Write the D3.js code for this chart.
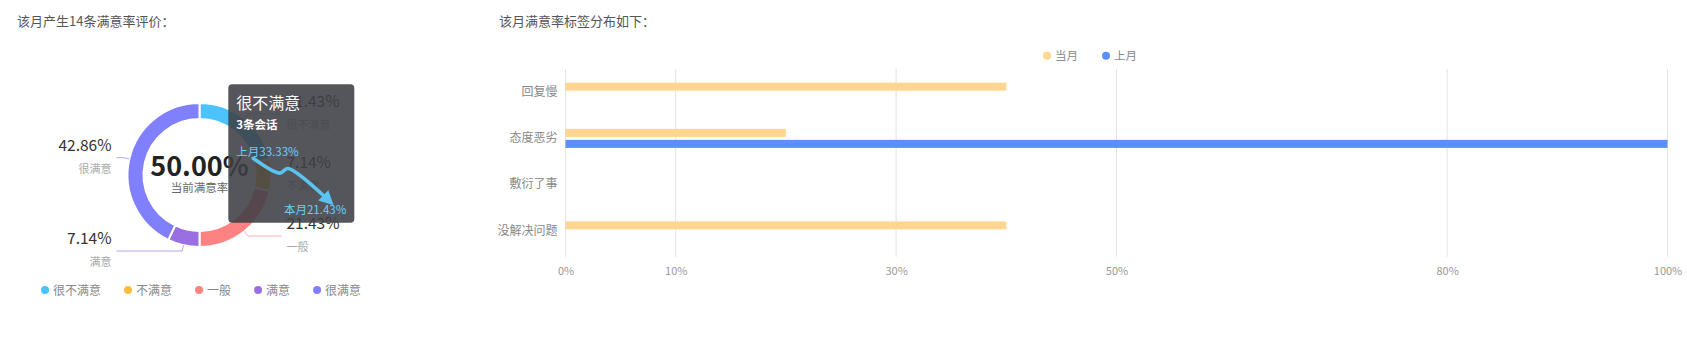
<!DOCTYPE html>
<html>
<head>
<meta charset="utf-8">
<script src="https://cdn.jsdelivr.net/npm/d3@7"></script>
<style>
  body { margin: 0; background: #fff; }
  svg { display: block; font-family: "Noto Sans CJK SC", "Noto Sans", sans-serif; }
</style>
</head>
<body>
<svg id="chart" width="1687" height="341"></svg>
<script>
// ---- data ----
var leftTitle = "该月产生14条满意率评价："
var rightTitle = "该月满意率标签分布如下："

var levels = ["很不满意", "不满意", "一般", "满意", "很满意"]
var levelCounts = [3, 1, 3, 1, 6]
var levelColors = ["#4cc3ff", "#ffbb3d", "#ff8282", "#9a6fe2", "#8080ff"]
var centerValue = "50.00%"
var centerLabel = "当前满意率"

// tooltip (hovered slice)
var tipName = "很不满意"
var tipCount = "3条会话"
var tipLast = 33.33
var tipNow = 21.43
var trendX = [0, 0.37, 0.48, 1]
var trendY = [1, 0.62, 0.74, 0]

var tags = ["回复慢", "态度恶劣", "敷衍了事", "没解决问题"]
var seriesNames = ["当月", "上月"]
var seriesColors = ["#ffd690", "#5b8ff9"]
var thisMonth = [40, 20, 0, 40]
var lastMonth = [0, 100, 0, 0]
var xTicks = [0, 10, 30, 50, 80, 100]

var svg = d3.select("#chart")

// titles
svg.append("text").attr("x", 17).attr("y", 26).text(leftTitle)
  .attr("font-size", 13).attr("fill", "#555")
svg.append("text").attr("x", 499).attr("y", 26).text(rightTitle)
  .attr("font-size", 13).attr("fill", "#555")

// ---- donut ----
var cx = 199.5, cy = 175, rIn = 56, rOut = 72
var total = d3.sum(levelCounts)
var pieData = d3.pie().sort(null).value(function(d) { return d })(levelCounts)
var arc = d3.arc().innerRadius(rIn).outerRadius(rOut)

var donut = svg.append("g").attr("transform", "translate(" + cx + "," + cy + ")")
donut.selectAll("path").data(pieData).enter()
  .append("path")
  .attr("d", arc)
  .attr("fill", function(d, i) { return levelColors[i] })
  .attr("stroke", "#fff")
  .attr("stroke-width", 2)

donut.append("text").text(centerValue)
  .attr("text-anchor", "middle").attr("y", 1)
  .attr("font-size", 27).attr("font-weight", "bold").attr("fill", "#222")
donut.append("text").text(centerLabel)
  .attr("text-anchor", "middle").attr("y", 17)
  .attr("font-size", 11.5).attr("fill", "#666")

// outer labels
pieData.forEach(function(d, i) {
  var a = (d.startAngle + d.endAngle) / 2
  var sx = Math.sin(a), sy = -Math.cos(a)
  var right = sx >= 0
  var p0 = [rOut * sx, rOut * sy]
  var p1 = [(rOut + 6) * sx, (rOut + 6) * sy]
  var p2 = [right ? 82 : -83, p1[1]]
  donut.append("path")
    .attr("d", d3.line()([p0, p1, p2]))
    .attr("fill", "none")
    .attr("stroke", levelColors[i])
    .attr("stroke-opacity", 0.65)
    .attr("stroke-width", 1)
  var tx = right ? p2[0] + 5 : p2[0] - 5
  donut.append("text")
    .attr("x", tx).attr("y", p2[1] - 7)
    .attr("text-anchor", right ? "start" : "end")
    .attr("font-size", 15.5).attr("fill", "#333")
    .text((levelCounts[i] / total * 100).toFixed(2) + "%")
  donut.append("text")
    .attr("x", tx).attr("y", p2[1] + 15)
    .attr("text-anchor", right ? "start" : "end")
    .attr("font-size", 11).attr("fill", "#aaa")
    .text(levels[i])
})

// bottom legend
var lx = 45
levels.forEach(function(name, i) {
  svg.append("circle").attr("cx", lx).attr("cy", 290).attr("r", 4).attr("fill", levelColors[i])
  var t = svg.append("text").attr("x", lx + 8).attr("y", 294.5)
    .attr("font-size", 12).attr("fill", "#888").text(name)
  lx = lx + 8 + t.node().getComputedTextLength() + 27
})

// tooltip box
var tip = svg.append("g").attr("transform", "translate(228.3,84.3)")
tip.append("rect").attr("width", 126).attr("height", 138.5).attr("rx", 4)
  .attr("fill", "rgb(62,63,68)").attr("fill-opacity", 0.88)
tip.append("text").attr("x", 8).attr("y", 25).text(tipName)
  .attr("font-size", 16).attr("fill", "#fff")
tip.append("text").attr("x", 8).attr("y", 45).text(tipCount)
  .attr("font-size", 11.5).attr("font-weight", "bold").attr("fill", "#fff")
tip.append("text").attr("x", 8).attr("y", 71.5).text("上月" + tipLast.toFixed(2) + "%")
  .attr("font-size", 11.5).attr("fill", "#6fcdff")
tip.append("text").attr("x", 118).attr("y", 130).text("本月" + tipNow.toFixed(2) + "%")
  .attr("text-anchor", "end").attr("font-size", 11.5).attr("fill", "#6fcdff")

var defs = svg.append("defs")
defs.append("marker").attr("id", "arrow").attr("viewBox", "0 0 10 10")
  .attr("refX", 2).attr("refY", 5).attr("markerWidth", 4).attr("markerHeight", 4)
  .attr("orient", "auto")
  .append("path").attr("d", "M0,0L10,5L0,10z").attr("fill", "#5cc2f2")

var tX = d3.scaleLinear().domain([0, 1]).range([25, 97])
var tY = d3.scaleLinear().domain([0, 1]).range([113, 74])
tip.append("path")
  .datum(trendX.map(function(x, i) { return [x, trendY[i]] }))
  .attr("d", d3.line().x(function(d) { return tX(d[0]) }).y(function(d) { return tY(d[1]) })
    .curve(d3.curveCatmullRom.alpha(0.5)))
  .attr("fill", "none").attr("stroke", "#5cc2f2").attr("stroke-width", 3.6)
  .attr("stroke-linecap", "round").attr("stroke-linejoin", "round")
  .attr("marker-end", "url(#arrow)")

// ---- bar chart ----
var x = d3.scaleLinear().domain([0, 100]).range([565.5, 1667.5])
var y = d3.scaleBand().domain(tags).range([69, 254])
var yInner = d3.scaleBand().domain(seriesNames).range([-9.5, 9.5]).paddingInner(0.27)

var grid = svg.append("g")
grid.selectAll("line").data(xTicks).enter()
  .append("line")
  .attr("x1", function(d) { return x(d) }).attr("x2", function(d) { return x(d) })
  .attr("y1", 69).attr("y2", 257)
  .attr("stroke", "#e3e3e3").attr("stroke-width", 1)

var xAxis = svg.append("g").attr("transform", "translate(0,257)")
  .call(d3.axisBottom(x).tickValues(xTicks).tickSize(0).tickPadding(10)
    .tickFormat(function(d) { return d + "%" }))
xAxis.select(".domain").remove()
xAxis.selectAll("text").attr("fill", "#999").attr("font-size", 11)
  .attr("font-family", "\"Noto Sans CJK SC\", sans-serif")

var yAxis = svg.append("g").attr("transform", "translate(565.5,0)")
  .call(d3.axisLeft(y).tickSize(0).tickPadding(8))
yAxis.select(".domain").remove()
yAxis.selectAll("text").attr("fill", "#888").attr("font-size", 12)
  .attr("font-family", "\"Noto Sans CJK SC\", sans-serif")

var barRows = [thisMonth, lastMonth]
barRows.forEach(function(vals, s) {
  svg.append("g").selectAll("rect").data(vals).enter()
    .append("rect")
    .attr("x", x(0))
    .attr("y", function(d, i) { return y(tags[i]) + y.bandwidth() / 2 + yInner(seriesNames[s]) })
    .attr("width", function(d) { return x(d) - x(0) })
    .attr("height", yInner.bandwidth())
    .attr("fill", seriesColors[s])
})

// legend top
var legG = svg.append("g")
var gx = 0
seriesNames.forEach(function(name, i) {
  legG.append("circle").attr("cx", gx + 4).attr("cy", 55.7).attr("r", 4).attr("fill", seriesColors[i])
  var t = legG.append("text").attr("x", gx + 12).attr("y", 60)
    .attr("font-size", 11.5).attr("fill", "#888").text(name)
  gx = gx + 12 + t.node().getComputedTextLength() + 24
})
var legW = gx - 24
legG.attr("transform", "translate(" + (1090 - legW / 2) + ",0)")
</script>
</body>
</html>
